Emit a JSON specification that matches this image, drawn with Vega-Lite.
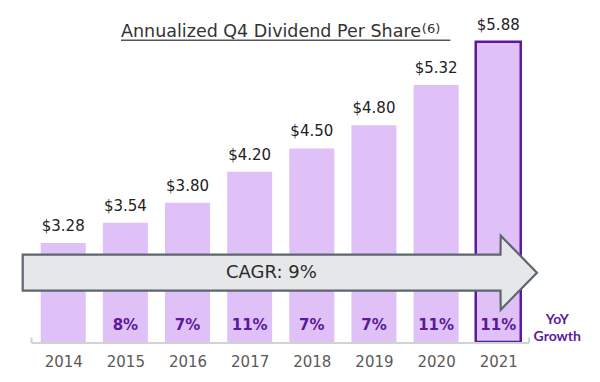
{
  "$schema": "https://vega.github.io/schema/vega-lite/v6.json",
  "width": 600,
  "height": 342,
  "autosize": "none",
  "padding": {"left": 0, "top": 0, "right": 0, "bottom": 40},
  "background": "white",
  "config": {"view": {"stroke": null}, "font": "DejaVu Sans"},
  "datasets": {
    "bars": [
      {"year": 2014, "dps": 3.28, "growth": null},
      {"year": 2015, "dps": 3.54, "growth": "8%"},
      {"year": 2016, "dps": 3.80, "growth": "7%"},
      {"year": 2017, "dps": 4.20, "growth": "11%"},
      {"year": 2018, "dps": 4.50, "growth": "7%"},
      {"year": 2019, "dps": 4.80, "growth": "7%"},
      {"year": 2020, "dps": 5.32, "growth": "11%"},
      {"year": 2021, "dps": 5.88, "growth": "11%"}
    ],
    "arrow": [
      {"x": 2013.348, "lo": 2.663, "hi": 3.128},
      {"x": 2021.036, "lo": 2.663, "hi": 3.128},
      {"x": 2021.040, "lo": 2.417, "hi": 3.373},
      {"x": 2021.623, "lo": 2.895, "hi": 2.895}
    ],
    "one": [{}]
  },
  "layer": [
    {
      "data": {"name": "bars"},
      "mark": {"type": "bar", "size": 45, "fill": "#dfc1f7"},
      "encoding": {
        "x": {"field": "year", "type": "quantitative", "scale": {"domain": [2013.063, 2022.557], "nice": false, "zero": false},
          "axis": {"values": [2014, 2015, 2016, 2017, 2018, 2019, 2020, 2021], "format": "d", "title": null, "domain": false, "ticks": false, "grid": false, "labelFontSize": 15, "labelColor": "#5a5a5a", "labelPadding": 12, "labelFont": "DejaVu Sans"}},
        "y": {"field": "dps", "type": "quantitative", "scale": {"domain": [2, 6.4186], "nice": false, "zero": false}, "axis": null},
        "y2": {"datum": 2},
        "stroke": {"condition": {"test": "datum.year == 2021", "value": "#5b1a9b"}, "value": null},
        "strokeWidth": {"condition": {"test": "datum.year == 2021", "value": 2.5}, "value": 0}
      }
    },
    {
      "data": {"name": "bars"},
      "mark": {"type": "text", "baseline": "alphabetic", "dy": -12, "fontSize": 15, "color": "#222222"},
      "encoding": {
        "x": {"field": "year", "type": "quantitative"},
        "y": {"field": "dps", "type": "quantitative"},
        "text": {"field": "dps", "type": "quantitative", "format": "$.2f"}
      }
    },
    {
      "data": {"name": "bars"},
      "transform": [{"filter": "datum.growth != null"}],
      "mark": {"type": "text", "baseline": "middle", "dy": -17, "fontSize": 15, "fontWeight": "bold", "color": "#5b1a9b"},
      "encoding": {
        "x": {"field": "year", "type": "quantitative"},
        "y": {"datum": 2},
        "text": {"field": "growth"}
      }
    },
    {
      "data": {"name": "arrow"},
      "mark": {"type": "area", "fill": "#e6e7e9", "fillOpacity": 1, "stroke": "#5d666e", "strokeWidth": 2.2, "strokeJoin": "miter"},
      "encoding": {
        "x": {"field": "x", "type": "quantitative"},
        "y": {"field": "lo", "type": "quantitative"},
        "y2": {"field": "hi"}
      }
    },
    {
      "data": {"name": "one"},
      "mark": {"type": "text", "baseline": "middle", "align": "center", "fontSize": 18, "color": "#2b2b2b"},
      "encoding": {
        "x": {"datum": 2017.35},
        "y": {"datum": 2.89},
        "text": {"value": "CAGR: 9%"}
      }
    },
    {
      "data": {"name": "one"},
      "mark": {"type": "text", "baseline": "middle", "align": "center", "fontSize": 14, "fontWeight": "bold", "font": "Lato", "color": "#5b1a9b", "lineHeight": 17.5},
      "encoding": {
        "x": {"datum": 2021.95},
        "y": {"datum": 2.29},
        "text": {"value": ["YoY", "Growth"]}
      }
    },
    {
      "data": {"name": "one"},
      "mark": {"type": "rule", "color": "#d2d2d2", "strokeWidth": 2},
      "encoding": {
        "x": {"datum": 2013.49},
        "x2": {"datum": 2021.497},
        "y": {"datum": 1.987}
      }
    },
    {
      "data": {"name": "one"},
      "mark": {"type": "rule", "color": "#d2d2d2", "strokeWidth": 2},
      "encoding": {
        "x": {"datum": 2013.49},
        "y": {"datum": 1.987},
        "y2": {"datum": 2.06}
      }
    },
    {
      "data": {"name": "one"},
      "mark": {"type": "rule", "color": "#d2d2d2", "strokeWidth": 2},
      "encoding": {
        "x": {"datum": 2021.497},
        "y": {"datum": 1.987},
        "y2": {"datum": 2.06}
      }
    },
    {
      "data": {"name": "one"},
      "mark": {"type": "text", "baseline": "middle", "align": "left", "fontSize": 17.5, "color": "#333333"},
      "encoding": {
        "x": {"datum": 2014.93},
        "y": {"datum": 6.01},
        "text": {"value": "Annualized Q4 Dividend Per Share"}
      }
    },
    {
      "data": {"name": "one"},
      "mark": {"type": "text", "baseline": "middle", "align": "left", "fontSize": 13, "color": "#333333"},
      "encoding": {
        "x": {"datum": 2019.77},
        "y": {"datum": 6.05},
        "text": {"value": "(6)"}
      }
    },
    {
      "data": {"name": "one"},
      "mark": {"type": "rule", "color": "#555555", "strokeWidth": 1.5},
      "encoding": {
        "x": {"datum": 2014.93},
        "x2": {"datum": 2020.23},
        "y": {"datum": 5.897}
      }
    }
  ]
}
